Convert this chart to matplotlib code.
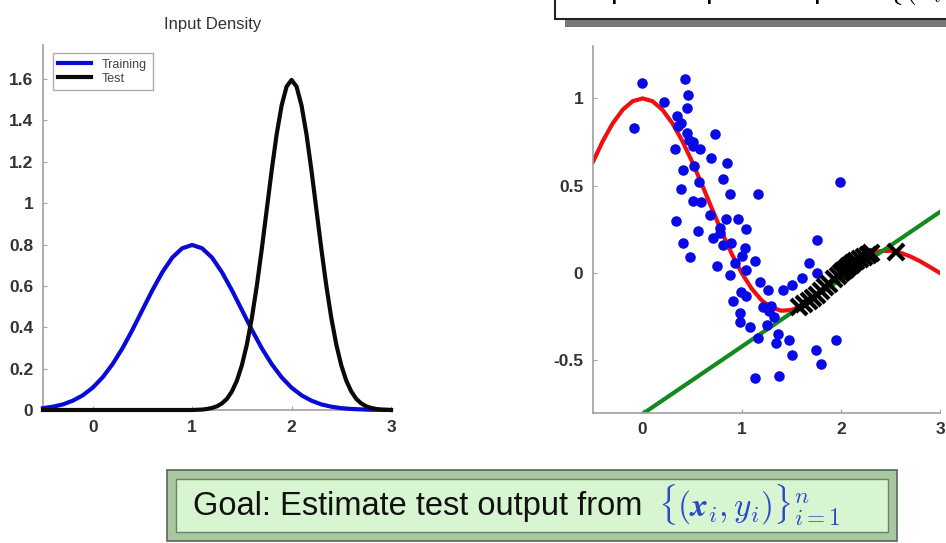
# covariate shift slide: input densities (left), regression fit (right)
import matplotlib
matplotlib.use("Agg")
import matplotlib.pyplot as plt
from matplotlib.patches import Rectangle

plt.rcParams['font.family'] = ['Liberation Sans', 'DejaVu Sans']
plt.rcParams['mathtext.fontset'] = 'cm'

# ---- data ----
# input densities
dens_x = [-0.5, -0.4, -0.3, -0.2, -0.1, 0.0, 0.1, 0.2, 0.3, 0.4, 0.5, 0.6,
          0.7, 0.8, 0.9, 1.0, 1.1, 1.2, 1.3, 1.4, 1.5, 1.6, 1.7, 1.8, 1.9,
          2.0, 2.1, 2.2, 2.3, 2.4, 2.5, 2.6, 2.7, 2.8, 2.9, 3.0]
train_dens = [0.009, 0.016, 0.027, 0.045, 0.071, 0.108, 0.158, 0.222, 0.299,
              0.388, 0.484, 0.579, 0.666, 0.737, 0.782, 0.798, 0.782, 0.737,
              0.666, 0.579, 0.484, 0.388, 0.299, 0.222, 0.158, 0.108, 0.071,
              0.045, 0.027, 0.016, 0.009, 0.005, 0.003, 0.001, 0.001, 0.0]
test_x = [-0.5, 1.0, 1.1, 1.15, 1.2, 1.25, 1.3, 1.35, 1.4, 1.45, 1.5, 1.55,
          1.6, 1.65, 1.7, 1.75, 1.8, 1.85, 1.9, 1.95, 2.0, 2.05, 2.1, 2.15,
          2.2, 2.25, 2.3, 2.35, 2.4, 2.45, 2.5, 2.55, 2.6, 2.65, 2.7, 2.75,
          2.8, 2.85, 2.9, 3.0]
test_dens = [0.0, 0.0, 0.002, 0.005, 0.010, 0.018, 0.032, 0.054, 0.090, 0.142,
             0.216, 0.316, 0.444, 0.599, 0.777, 0.968, 1.159, 1.333, 1.473,
             1.564, 1.596, 1.564, 1.473, 1.333, 1.159, 0.968, 0.777, 0.599,
             0.444, 0.316, 0.216, 0.142, 0.090, 0.054, 0.032, 0.018, 0.010,
             0.005, 0.002, 0.0]

# true function (red)
true_y = [0.637, 0.757, 0.858, 0.935, 0.984, 1.0, 0.984, 0.935, 0.858, 0.757,
          0.637, 0.505, 0.368, 0.234, 0.109, 0.0, -0.089, -0.156, -0.198,
          -0.216, -0.212, -0.189, -0.151, -0.104, -0.052, 0.0, 0.047, 0.085,
          0.112, 0.126, 0.127, 0.116, 0.095, 0.067, 0.034, 0.0]

# linear fit (green)
fit_x = [-0.5, 3.0]
fit_y = [-1.0, 0.35]

# training samples (blue dots)
tr_x = [-0.01, 0.43, 0.22, 0.46, -0.09, 0.45, 0.35, 0.39, 0.45, 0.735, 0.33,
        0.51, 0.58, 0.69, 0.85, 0.41, 0.52, 0.81, 0.57, 0.39, 0.88, 1.16,
        1.99, 0.51, 0.59, 0.34, 0.685, 0.84, 0.96, 0.56, 0.78, 1.04, 0.71,
        0.81, 0.89, 0.41, 1.03, 1.00, 0.48, 0.75, 0.93, 0.88, 1.04, 1.13,
        1.76, 1.68, 1.76, 1.61, 1.51, 1.42, 1.18, 1.27, 1.04, 0.91, 1.21,
        1.30, 0.98, 0.98, 1.08, 1.25, 1.33, 1.37, 1.16, 1.35, 1.48, 1.51,
        1.75, 1.80, 1.95, 1.13, 1.38, 0.36, 0.47, 0.51, 0.78, 1.28, 0.99]
tr_y = [1.09, 1.11, 0.98, 1.02, 0.83, 0.945, 0.90, 0.86, 0.80, 0.795, 0.71,
        0.75, 0.71, 0.66, 0.63, 0.59, 0.61, 0.54, 0.52, 0.48, 0.45, 0.45,
        0.52, 0.415, 0.405, 0.30, 0.335, 0.31, 0.31, 0.24, 0.26, 0.25, 0.20,
        0.16, 0.17, 0.17, 0.146, 0.10, 0.09, 0.04, 0.06, -0.01, 0.02, 0.07,
        0.19, 0.06, 0.00, -0.03, -0.07, -0.095, -0.05, -0.10, -0.13, -0.16,
        -0.195, -0.19, -0.23, -0.28, -0.31, -0.30, -0.25, -0.35, -0.375,
        -0.40, -0.385, -0.47, -0.44, -0.52, -0.385, -0.60, -0.59, 0.84, 0.76,
        0.73, 0.23, -0.22, -0.11]

# test samples (black crosses)
te_x = [1.58, 1.63, 1.68, 1.72, 1.76, 1.80, 1.84, 1.88, 1.93, 1.97, 2.0,
        2.02, 2.04, 2.06, 2.08, 2.10, 2.12, 2.15, 2.19, 2.23, 2.27, 2.30, 2.56]
te_y = [-0.195, -0.179, -0.160, -0.143, -0.124, -0.104, -0.083, -0.062,
        -0.036, -0.015, 0.0, 0.010, 0.020, 0.029, 0.038, 0.047, 0.055, 0.067,
        0.082, 0.094, 0.105, 0.112, 0.122]

dens_ticks = [0, 0.2, 0.4, 0.6, 0.8, 1, 1.2, 1.4, 1.6]
dens_labels = ['0', '0.2', '0.4', '0.6', '0.8', '1', '1.2', '1.4', '1.6']
fit_ticks = [-0.5, 0, 0.5, 1]
fit_labels = ['-0.5', '0', '0.5', '1']
x_ticks = [0, 1, 2, 3]

W, H = 946, 543
fig = plt.figure(figsize=(W / 100, H / 100), dpi=100)

def style(ax):
    for s in ['top', 'right']:
        ax.spines[s].set_visible(False)
    for s in ['left', 'bottom']:
        ax.spines[s].set_color('#a0a0a0')
        ax.spines[s].set_linewidth(1.2)
    ax.tick_params(direction='in', length=3, color='#a0a0a0',
                   labelsize=12.5, labelcolor='#333333', pad=7)
    for lab in ax.get_xticklabels() + ax.get_yticklabels():
        lab.set_fontweight('bold')

# ---- left: input density ----
ax1 = fig.add_axes([43 / W, 1 - 410 / H, 348 / W, 365 / H])
ax1.plot(dens_x, train_dens, color='#0a0ad8', lw=3, label='Training', zorder=3)
ax1.plot(test_x, test_dens, color='#0a0a0a', lw=3, label='Test', zorder=3)
ax1.set_xlim(-0.5, 3.0)
ax1.set_ylim(0, 1.765)
ax1.set_xticks(x_ticks)
ax1.set_yticks(dens_ticks)
ax1.set_yticklabels(dens_labels)
style(ax1)
for c in ax1.get_lines():
    c.set_clip_on(False)
leg = ax1.legend(loc='upper left', bbox_to_anchor=(0.01, 0.995), fontsize=9,
                 frameon=True, fancybox=False, handlelength=2.6,
                 borderpad=0.45, labelspacing=0.15, handletextpad=0.9)
leg.get_frame().set_edgecolor('#999999')
leg.get_frame().set_linewidth(1)
for t in leg.get_texts():
    t.set_color('#444444')
fig.text(213 / W, 1 - 24 / H, 'Input Density', ha='center', va='center',
         fontsize=12, color='#333333')

# ---- right: samples and fits ----
ax2 = fig.add_axes([593 / W, 1 - 412.7 / H, 347 / W, 366.7 / H])
ax2.plot(dens_x, true_y, color='#ee1010', lw=3, zorder=2)
ax2.plot(fit_x, fit_y, color='#138a20', lw=3, zorder=2)
ax2.plot(tr_x, tr_y, 'o', color='#0a0ae6', ms=7.6, mec='none', zorder=3)
ax2.plot(te_x, te_y, 'x', color='black', ms=11, mew=3, zorder=4)
ax2.set_xlim(-0.5, 3.0)
ax2.set_ylim(-0.8, 1.3)
ax2.set_xticks(x_ticks)
ax2.set_yticks(fit_ticks)
ax2.set_yticklabels(fit_labels)
style(ax2)

# ---- top-right box, mostly cut off by the image edge ----
fig.patches.append(Rectangle((565 / W, 1 - 27 / H), 400 / W, 40 / H,
                             transform=fig.transFigure, facecolor='#777777',
                             edgecolor='none', zorder=1))
fig.patches.append(Rectangle((555 / W, 1 - 19 / H), 400 / W, 40 / H,
                             transform=fig.transFigure, facecolor='white',
                             edgecolor='#222222', lw=1.5, zorder=2))
fig.text(585 / W, 1 + 3 / H, r'Input-output samples  $\{(x_i, y_i)\}$',
         ha='left', va='baseline', fontsize=22, color='black', zorder=3)

# ---- bottom goal box ----
fig.patches.append(Rectangle((167 / W, 1 - 541 / H), 730 / W, 71 / H,
                             transform=fig.transFigure, facecolor='#a9c8a2',
                             edgecolor='#55665a', lw=1.2, zorder=1))
fig.patches.append(Rectangle((176 / W, 1 - 532 / H), 712 / W, 53 / H,
                             transform=fig.transFigure, facecolor='#d7f5d0',
                             edgecolor='#6f806f', lw=1.0, zorder=2))
fig.text(193 / W, 1 - 507 / H, 'Goal: Estimate test output from',
         ha='left', va='center', fontsize=23.5, color='#111111', zorder=3)
fig.text(658 / W, 1 - 505 / H, r'$\{(\boldsymbol{x}_i, y_i)\}_{i=1}^{n}$',
         ha='left', va='center', fontsize=24, color='#2a48c8', zorder=3)

plt.savefig('out.png', dpi=100)
